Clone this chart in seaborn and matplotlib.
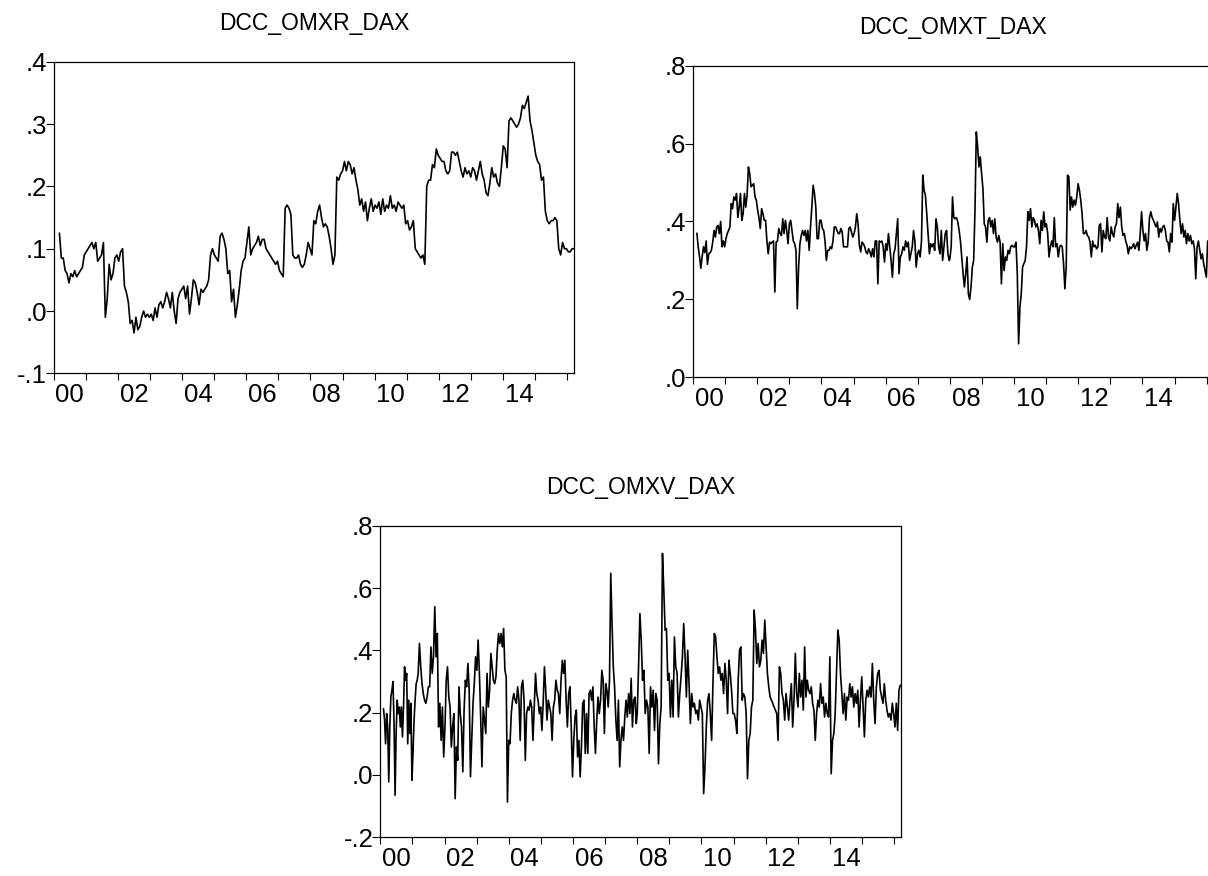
import numpy as np
import pandas as pd
import seaborn as sns
import matplotlib
matplotlib.use("Agg")
import matplotlib.pyplot as plt
from matplotlib.ticker import FixedLocator, FuncFormatter, NullFormatter

# ---------------------------------------------------------------------------
# data (decimal years, correlation values)

# DCC_OMXR_DAX : evenly spaced readings from 2000.18 to 2016.21
omxr_span = (2000.18, 2016.21)
omxr = [
    .125, .085, .085, .065, .06, .045, .06, .055, .065, .055,
    .06, .065, .07, .09, .095, .10, .105, .11, .10, .11,
    .08, .085, .09, .11, -.01, .02, .075, .05, .06, .085,
    .09, .08, .095, .10, .04, .03, .015, -.02, -.015, -.035,
    -.01, -.03, -.025, -.01, .0, -.01, -.005, -.01, -.005, -.015,
    .005, -.01, .01, .015, .005, .015, .03, .02, .005, .03,
    .0, -.02, .02, .03, .035, .04, .02, .04, -.005, .02,
    .05, .045, .03, .01, .035, .03, .035, .04, .05, .09,
    .10, .09, .085, .08, .12, .125, .115, .10, .06, .065,
    .015, .035, -.01, .01, .035, .065, .08, .085, .11, .135,
    .09, .10, .105, .11, .12, .105, .115, .115, .10, .095,
    .09, .085, .08, .075, .08, .065, .06, .055, .165, .17,
    .165, .155, .09, .085, .085, .09, .075, .07, .075, .09,
    .11, .10, .09, .145, .14, .16, .17, .15, .135, .14,
    .135, .12, .10, .075, .09, .215, .21, .22, .225, .24,
    .225, .24, .235, .22, .23, .21, .195, .17, .18, .16,
    .175, .145, .165, .18, .16, .17, .165, .175, .155, .18,
    .16, .17, .165, .185, .165, .17, .16, .175, .17, .165,
    .17, .14, .145, .13, .135, .145, .10, .095, .09, .085,
    .09, .075, .20, .21, .21, .235, .23, .26, .25, .245,
    .24, .24, .225, .22, .225, .255, .255, .25, .255, .24,
    .225, .215, .23, .22, .225, .215, .23, .225, .21, .225,
    .24, .22, .21, .19, .185, .205, .23, .215, .22, .205,
    .20, .23, .265, .26, .23, .305, .31, .305, .30, .295,
    .30, .31, .33, .325, .335, .345, .305, .29, .27, .25,
    .24, .235, .21, .215, .16, .145, .14, .145, .145, .15,
    .145, .10, .09, .11, .10, .10, .095, .095, .10, .10,
]

# DCC_OMXT_DAX : two pieces of evenly spaced readings
omxt_spans = [(2000.12, 2007.98), (2008.00, 2016.03)]
omxt_a = [
    .37, .335, .31, .28, .31, .335, .32, .35, .29, .317,
    .32, .326, .347, .377, .36, .386, .39, .369, .40, .335,
    .35, .335, .356, .369, .377, .386, .446, .433, .463, .455,
    .472, .41, .437, .472, .403, .42, .472, .437, .467, .54,
    .523, .489, .493, .497, .463, .455, .429, .41, .382, .433,
    .42, .403, .403, .35, .317, .347, .343, .347, .35, .219,
    .347, .35, .382, .369, .364, .407, .369, .403, .377, .343,
    .394, .403, .377, .35, .343, .326, .176, .283, .343, .364,
    .377, .364, .377, .35, .377, .326, .386, .437, .493, .472,
    .437, .356, .356, .403, .403, .382, .377, .35, .30, .326,
    .326, .335, .33, .35, .386, .386, .377, .369, .369, .382,
    .373, .335, .335, .335, .335, .382, .386, .373, .36, .369,
    .386, .42, .394, .339, .322, .347, .343, .335, .322, .317,
    .33, .322, .309, .33, .309, .35, .35, .24, .35, .347,
    .35, .335, .296, .343, .326, .369, .335, .30, .257, .317,
    .33, .369, .407, .266, .309, .317, .335, .326, .35, .335,
    .347, .30, .317, .335, .377, .35, .283, .317, .326, .309,
    .35, .519, .48, .467, .42, .369, .317, .343, .335, .343,
    .326, .407, .386, .335, .317, .377, .30, .335, .369, .377,
    .317, .30,
]
omxt_b = [
    .304, .335, .463, .41, .407, .41, .399, .377, .35, .309,
    .266, .232, .266, .309, .214, .20, .232, .283, .30, .429,
    .63, .592, .54, .566, .523, .485, .394, .386, .347, .403,
    .41, .386, .403, .369, .407, .36, .347, .364, .347, .24,
    .343, .274, .309, .30, .326, .317, .335, .339, .335, .335,
    .347, .266, .086, .18, .214, .283, .292, .30, .335, .425,
    .403, .433, .386, .41, .403, .386, .394, .377, .343, .403,
    .377, .425, .386, .394, .369, .309, .335, .35, .335, .41,
    .335, .343, .309, .335, .339, .335, .292, .227, .283, .519,
    .515, .429, .463, .437, .455, .442, .463, .497, .48, .455,
    .42, .369, .369, .377, .364, .36, .347, .309, .35, .335,
    .339, .33, .335, .39, .394, .322, .377, .36, .356, .41,
    .36, .35, .386, .369, .36, .386, .394, .446, .41, .437,
    .386, .364, .369, .35, .339, .317, .335, .33, .335, .343,
    .33, .339, .347, .326, .369, .425, .377, .35, .369, .326,
    .347, .41, .425, .41, .403, .394, .386, .399, .36, .382,
    .373, .386, .39, .377, .35, .347, .322, .369, .347, .446,
    .403, .437, .472, .446, .403, .369, .394, .36, .377, .343,
    .369, .35, .364, .343, .35, .33, .253, .335, .35, .326,
    .304, .317, .292, .274, .257, .35,
]

# DCC_OMXV_DAX : three pieces of evenly spaced readings
omxv_spans = [(2000.10, 2001.15), (2001.18, 2007.97), (2008.00, 2016.19)]
omxv_a = [
    .213, .176, .10, .197, .154, -.022, .154, .25, .272, .30,
    .17, -.065, .133, .24, .197, .218, .154, .218, .122, .218,
    .347, .304, .326, .10, .24, .133, .23, -.017, .069, .176,
    .24, .293, .304,
]
omxv_b = [
    .326, .422, .347, .293, .261, .24, .23, .25, .283, .283,
    .411, .326, .379, .54, .379, .454, .154, .23, .111, .218,
    .058, .154, .304, .347, .25, .218, .09, .154, .197, -.076,
    .09, .047, .283, .197, .154, .01, .208, .304, .283, .358,
    .272, -.006, .111, .23, .293, .379, .336, .433, .326, .186,
    .026, .218, .176, .133, .326, .218, .272, .39, .347, .304,
    .293, .315, .401, .454, .422, .454, .411, .47, .336, .315,
    -.087, .111, .10, .197, .24, .261, .24, .23, .283, .24,
    .111, .283, .304, .24, .047, .197, .218, .208, .24, .218,
    .111, .218, .326, .261, .24, .197, .218, .143, .23, .347,
    .272, .176, .24, .218, .197, .111, .218, .24, .304, .272,
    .261, .197, .304, .368, .326, .368, .24, .154, .261, .283,
    .154, -.006, .111, .186, .208, .058, .111, -.006, .09, .23,
    .24, .069, .197, .069, .261, .272, .24, .283, .154, .069,
    .176, .25, .197, .24, .336, .304, .133, .293, .272, .218,
    .304, .647, .486, .347, .283, .176, .111, .24, .026, .111,
    .154, .111, .186, .24, .186, .261, .197, .31, .154, .24,
    .25, .165,
]
omxv_c = [
    .197, .347, .518, .433, .304, .336, .197, .24, .218, .069,
    .283, .218, .272, .143, .261, .24, .036, .165, .218, .711,
    .593, .465, .47, .304, .326, .186, .304, .186, .443, .347,
    .326, .186, .261, .315, .379, .486, .379, .25, .40, .293,
    .165, .261, .218, .23, .197, .208, .176, .24, .218, .197,
    -.06, .026, .154, .24, .261, .197, .111, .293, .454, .443,
    .379, .326, .347, .304, .326, .261, .358, .304, .197, .368,
    .326, .272, .197, .197, .176, .133, .304, .401, .411, .24,
    .261, .25, .197, -.012, .111, .133, .218, .24, .529, .465,
    .358, .422, .347, .368, .433, .39, .497, .411, .326, .283,
    .25, .24, .23, .218, .208, .197, .111, .347, .326, .261,
    .24, .176, .261, .218, .176, .24, .293, .154, .24, .39,
    .261, .218, .326, .25, .304, .208, .411, .25, .304, .272,
    .261, .283, .23, .208, .111, .197, .24, .218, .293, .23,
    .25, .186, .23, .197, .186, .379, .004, .111, .133, .197,
    .326, .465, .433, .326, .261, .197, .261, .176, .25, .24,
    .293, .25, .283, .218, .261, .23, .272, .154, .24, .315,
    .218, .122, .24, .272, .25, .283, .25, .358, .24, .165,
    .283, .326, .336, .272, .25, .23, .293, .24, .208, .186,
    .197, .176, .23, .197, .154, .23, .143, .272, .288,
]

year_ticks = list(range(2000, 2017))
label_years = [2000, 2002, 2004, 2006, 2008, 2010, 2012, 2014]
label_text = ["00", "02", "04", "06", "08", "10", "12", "14"]


def make_frame(parts, spans):
    # observations are evenly spaced in time inside every piece
    dates = np.concatenate([np.linspace(a, b, len(p)) for p, (a, b) in zip(parts, spans)])
    vals = np.concatenate([np.array(p, dtype=float) for p in parts])
    return pd.DataFrame({"year": dates, "value": vals})


def short_num(v, pos):
    # EViews style labels: .4 / .0 / -.1
    s = "%.1f" % v
    return s.replace("0.", ".")


sns.set_theme(style="white")
plt.rcParams["font.family"] = ["Liberation Sans", "DejaVu Sans"]

fig = plt.figure(figsize=(12.08, 8.76), dpi=100)

panels = [
    ("DCC_OMXR_DAX", [omxr], [omxr_span], [0.0444, 0.5738, 0.4308, 0.3557], (-0.1, 0.4), 0.1),
    ("DCC_OMXT_DAX", [omxt_a, omxt_b], omxt_spans, [0.5737, 0.5693, 0.4308, 0.3557], (0.0, 0.8), 0.2),
    ("DCC_OMXV_DAX", [omxv_a, omxv_b, omxv_c], omxv_spans, [0.3148, 0.0442, 0.4310, 0.3557], (-0.2, 0.8), 0.2),
]

for title, parts, spans, pos, ylim, ystep in panels:
    ax = fig.add_axes(pos)
    df = make_frame(parts, spans)
    sns.lineplot(data=df, x="year", y="value", ax=ax, color="black",
                 linewidth=1.2, estimator=None, sort=False)
    ax.set_xlim(2000.0, 2016.21)
    ax.set_ylim(*ylim)
    ax.set_xlabel("")
    ax.set_ylabel("")
    ax.set_title(title, fontsize=16.5, pad=23, color="black")

    # year ticks at year starts, labels centred in the even years
    ax.xaxis.set_major_locator(FixedLocator(year_ticks))
    ax.xaxis.set_major_formatter(NullFormatter())
    ax.xaxis.set_minor_locator(FixedLocator([y + 0.5 for y in label_years]))
    ax.xaxis.set_minor_formatter(FuncFormatter(lambda v, p: label_text[p] if p is not None and p < len(label_text) else ""))
    ax.tick_params(axis="x", which="major", direction="out", length=5.2, width=0.8,
                   color="black", bottom=True)
    ax.tick_params(axis="x", which="minor", length=0, pad=7, labelsize=18.5,
                   labelcolor="black", bottom=True)

    yt = np.arange(ylim[0], ylim[1] + ystep / 2, ystep)
    ax.yaxis.set_major_locator(FixedLocator(yt))
    ax.yaxis.set_major_formatter(FuncFormatter(short_num))
    ax.tick_params(axis="y", direction="out", length=6, width=0.8, pad=-1,
                   labelsize=18.5, color="black", labelcolor="black", left=True)

    for sp in ax.spines.values():
        sp.set_color("black")
        sp.set_linewidth(0.9)
        sp.set_visible(True)

fig.savefig("out.png", dpi=100)
